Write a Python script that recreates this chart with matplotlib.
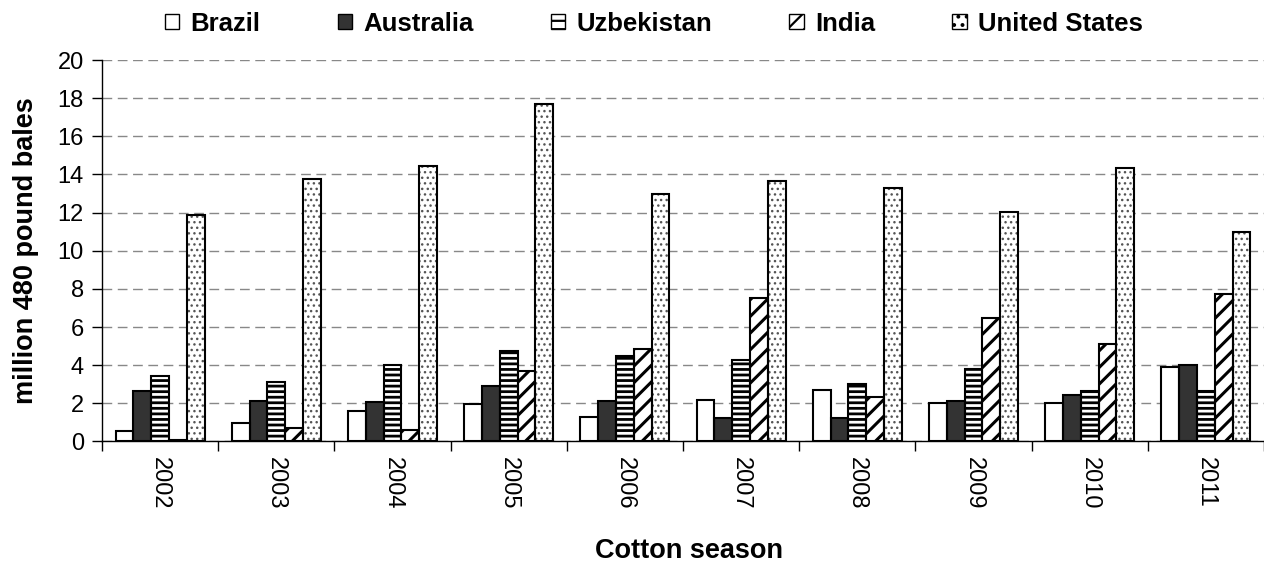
import numpy as np
import matplotlib.pyplot as plt
from matplotlib.patches import Patch

plt.rcParams['font.family'] = ['Liberation Sans', 'DejaVu Sans']

# 数据
seasons = ['2002', '2003', '2004', '2005', '2006', '2007', '2008', '2009', '2010', '2011']
brazil = [0.55, 0.95, 1.6, 1.95, 1.3, 2.2, 2.7, 2.0, 2.0, 3.9]
australia = [2.65, 2.1, 2.05, 2.9, 2.1, 1.25, 1.25, 2.1, 2.45, 4.0]
uzbekistan = [3.45, 3.1, 4.0, 4.75, 4.5, 4.25, 3.0, 3.8, 2.65, 2.65]
india = [0.1, 0.7, 0.6, 3.7, 4.85, 7.5, 2.35, 6.5, 5.1, 7.75]
united_states = [11.9, 13.75, 14.45, 17.7, 12.95, 13.65, 13.3, 12.05, 14.35, 11.0]

# 名称, 数值, 填充色, 柱子阴影, 图例阴影, 阴影线宽, 阴影颜色
series = [
    ('Brazil', brazil, 'white', '', '', 1.0, 'black'),
    ('Australia', australia, '#333333', '', '', 1.0, 'black'),
    ('Uzbekistan', uzbekistan, 'white', '---', '--', 2.0, 'black'),
    ('India', india, 'white', '//', '//', 2.2, 'black'),
    ('United States', united_states, 'white', '...', '..', 1.0, '#555555'),
]

fig = plt.figure(figsize=(12.64, 5.64), dpi=100)
ax = fig.add_axes([0.0807, 0.2172, 0.9193, 0.6764])

x = np.arange(len(seasons))
w = 0.153
handles = []
for i, (name, vals, fc, hatch, lhatch, hlw, hc) in enumerate(series):
    pos = x + (i - 2) * w
    with plt.rc_context({'hatch.linewidth': hlw}):
        # 先画填充和阴影，再画黑色边框
        ax.bar(pos, vals, w, color=fc, edgecolor=hc, linewidth=0,
               hatch=hatch, zorder=3)
        ax.bar(pos, vals, w, fill=False, edgecolor='black', linewidth=1.5, zorder=4)
        handles.append(Patch(facecolor=fc, edgecolor='black', linewidth=1.0,
                             hatch=lhatch, label=name))

ax.set_xlim(-0.5, len(seasons) - 0.5)
ax.set_ylim(0, 20)
ax.set_yticks(range(0, 21, 2))
ax.yaxis.grid(True, linestyle=(0, (7, 4)), color='#888888', linewidth=1.0, zorder=0)

ax.set_xticks(x)
ax.set_xticklabels(seasons, rotation=270, fontsize=17)
ax.tick_params(axis='x', length=0, pad=11)
ax.set_xticks(np.arange(-0.5, len(seasons), 1), minor=True)
ax.tick_params(axis='x', which='minor', length=7.5, width=1, direction='out')
ax.tick_params(axis='y', labelsize=17, length=7, width=1, direction='out', pad=6)

for s in ['top', 'right']:
    ax.spines[s].set_visible(False)
ax.spines['left'].set_linewidth(1)
ax.spines['bottom'].set_linewidth(1)

ax.set_ylabel('million 480 pound bales', fontsize=19.5, fontweight='bold')
ax.yaxis.set_label_coords(-0.054, 0.5)
ax.set_xlabel('Cotton season', fontsize=19.5, fontweight='bold', va='baseline')
ax.xaxis.set_label_coords(0.505, -0.305)

with plt.rc_context({'hatch.linewidth': 1.6}):
    fig.legend(handles=handles, loc='upper center', bbox_to_anchor=(0.5174, 1.02),
               ncol=5, frameon=False, prop={'size': 18.5, 'weight': 'bold'},
               handlelength=0.55, handleheight=0.55, handletextpad=0.45,
               columnspacing=3.0)

fig.savefig('out.png', dpi=100)
